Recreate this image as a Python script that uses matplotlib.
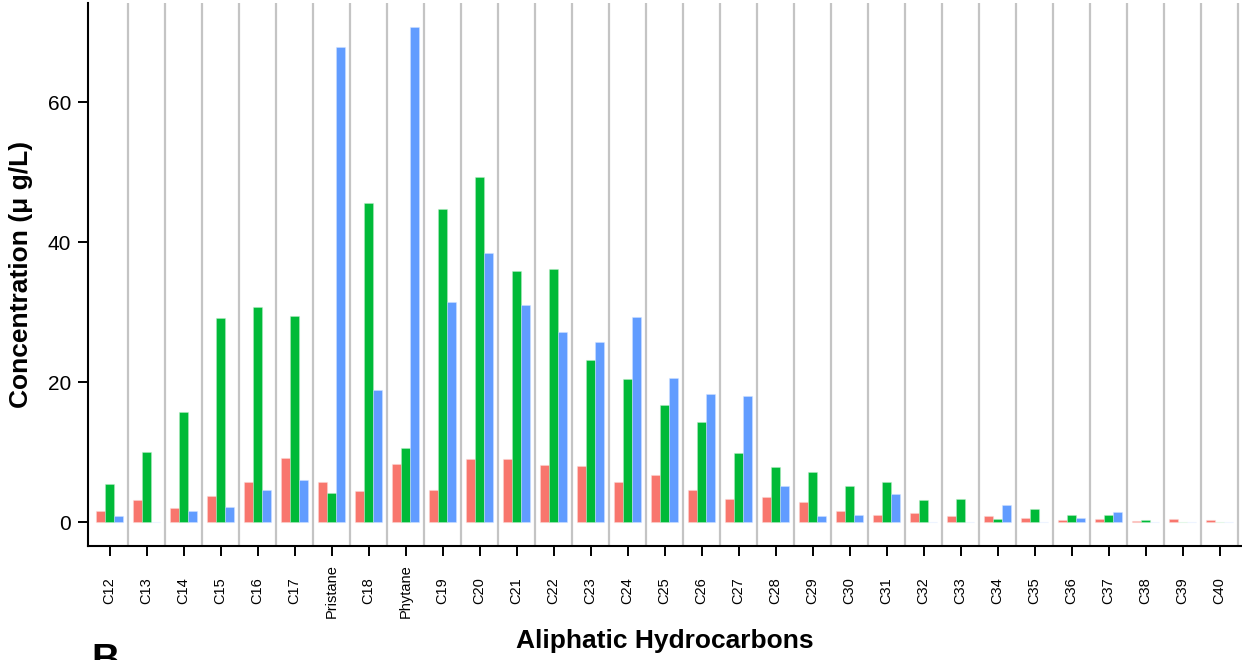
import matplotlib
matplotlib.use("Agg")
import matplotlib.pyplot as plt
import numpy as np

plt.rcParams['font.family'] = ['Liberation Sans', 'DejaVu Sans']

categories = ["C12", "C13", "C14", "C15", "C16", "C17", "Pristane", "C18", "Phytane",
              "C19", "C20", "C21", "C22", "C23", "C24", "C25", "C26", "C27", "C28",
              "C29", "C30", "C31", "C32", "C33", "C34", "C35", "C36", "C37", "C38",
              "C39", "C40"]
red_vals = [1.57, 3.19, 2.09, 3.76, 5.76, 9.19, 5.76, 4.47, 8.37, 4.61, 9.0, 9.04, 8.23,
            8.04, 5.71, 6.76, 4.61, 3.28, 3.57, 2.95, 1.66, 1.04, 1.33, 0.95, 0.95, 0.66,
            0.38, 0.47, 0.24, 0.47, 0.38]
green_vals = [5.43, 10.09, 15.7, 29.2, 30.76, 29.47, 4.23, 45.6, 10.57, 44.7, 49.3, 35.9,
              36.2, 23.2, 20.5, 16.7, 14.37, 9.85, 7.95, 7.19, 5.23, 5.76, 3.19, 3.33,
              0.52, 1.85, 1.04, 1.04, 0.38, 0.0, 0.0]
blue_vals = [0.86, 0.0, 1.66, 2.19, 4.66, 6.09, 67.9, 18.9, 70.76, 31.5, 38.4, 31.1, 27.2,
             25.8, 29.3, 20.66, 18.3, 18.0, 5.23, 0.86, 1.04, 4.04, 0.0, 0.0, 2.47, 0.0,
             0.66, 1.47, 0.0, 0.0, 0.0]
y_ticks = [0, 20, 40, 60]

W, H = 1242, 660
fig = plt.figure(figsize=(W / 100, H / 100), dpi=100)
ax_l, ax_r, ax_t, ax_b = 88, 1242, 3, 546
ax = fig.add_axes([ax_l / W, 1 - ax_b / H, (ax_r - ax_l) / W, (ax_b - ax_t) / H])

x = np.arange(len(categories))
bw = 0.243
colors = ["#F8766D", "#00BA38", "#619CFF"]

# category separators
for s in np.arange(0.5, len(categories), 1.0):
    ax.axvline(s, color="#C4C4C4", lw=1.6, zorder=0)

for off, vals, c in zip([-bw, 0, bw], [red_vals, green_vals, blue_vals], colors):
    ax.bar(x + off, vals, width=bw, color=c, edgecolor=(1, 1, 1, 0.35), linewidth=0.6,
           zorder=2)
    # faint outline for zero/near-zero bars
    ax.bar(x + off, vals, width=bw, fill=False, edgecolor=c, alpha=0.15, linewidth=0.8,
           zorder=1)

ax.set_xlim((ax_l - 109.5) / 37.0, (ax_r - 109.5) / 37.0)
ax.set_ylim((522.3 - ax_b) / 7.0, (522.3 - ax_t) / 7.0)

ax.set_xticks(x)
ax.set_xticklabels(categories, rotation=90, fontsize=10.5, va="center")
ax.set_yticks(y_ticks)
ax.set_yticklabels([str(v) for v in y_ticks], fontsize=15)

for sp in ["top", "right"]:
    ax.spines[sp].set_visible(False)
for sp in ["left", "bottom"]:
    ax.spines[sp].set_linewidth(1.5)
    ax.spines[sp].set_color("black")

ax.tick_params(axis="y", length=7.2, width=1.4, pad=5)
ax.tick_params(axis="x", length=7.2, width=1.4, pad=25)

ax.set_ylabel("Concentration (μ g/L)", fontsize=19, fontweight="bold")
ax.yaxis.set_label_coords((33 - ax_l) / (ax_r - ax_l), 0.5)
ax.set_xlabel("Aliphatic Hydrocarbons", fontsize=19, fontweight="bold")
ax.xaxis.set_label_coords(0.5, -(629 - ax_b) / (ax_b - ax_t))

fig.text(91 / W, 1 - 643 / H, "B", fontsize=28, fontweight="bold", va="top", ha="left")

fig.savefig("out.png", dpi=100)
